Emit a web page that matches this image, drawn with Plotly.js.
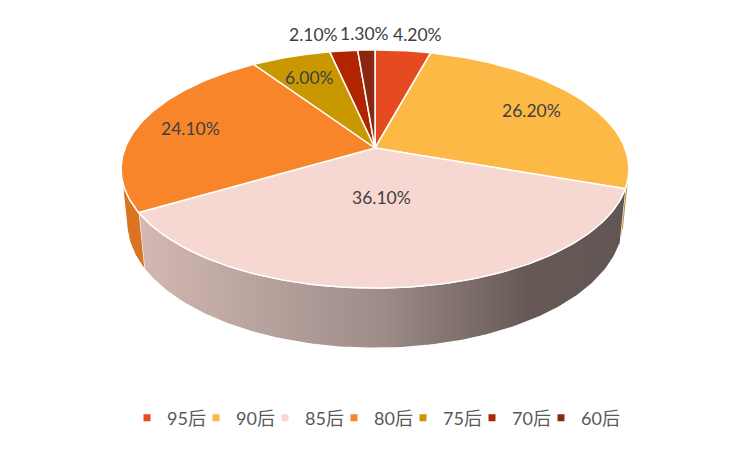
<!DOCTYPE html>
<html>
<head>
<meta charset="utf-8">
<script src="https://cdn.plot.ly/plotly-3.0.1.min.js"></script>
<style>body{margin:0;background:#fff}</style>
</head>
<body>
<div id="chart" style="width:750px;height:450px;"></div>
<script>
var groups = ['95后', '90后', '85后', '80后', '75后', '70后', '60后'];
var shares = [4.2, 26.2, 36.1, 24.1, 6.0, 2.1, 1.3];

var topColors = ['#E64A21', '#FCB946', '#F6D7D2', '#F8852A', '#C99800', '#B02500', '#8A2710'];
var sideColors = ['#B83B1A', '#C9943A', '#9D8C88', '#DA7420', '#A07900', '#8C1E00', '#6E1F0D'];
// label placement: radius along the slice middle, and a sideways nudge for the crowded ones
var labelRadius = [1.2, 0.75, 0.4, 0.78, 0.75, 1.2, 1.2];
var labelShift = [10, 0, -4, 0, 0, -25, 0];

// perspective camera, fitted by eye to the original
var cx = 375, cy = 148, focal = 1257, dist = 5.03, thick = 0.2436;
var tilt = 27.5 * Math.PI / 180;
var sinT = Math.sin(tilt), cosT = Math.cos(tilt);

function project(theta, r, h) {
    var X = r * Math.sin(theta);
    var Z = -r * Math.cos(theta);
    var depth = dist - (h * sinT + Z * cosT);
    var up = h * cosT - Z * sinT;
    return [cx + focal * X / depth, cy - focal * up / depth];
}

function arc(a0, a1, r, h) {
    var pts = [];
    var n = Math.max(2, Math.ceil(Math.abs(a1 - a0) / (Math.PI / 180)));
    for (let i = 0; i <= n; i++) {
        pts.push(project(a0 + (a1 - a0) * i / n, r, h));
    }
    return pts;
}

var total = shares.reduce(function (a, b) { return a + b; }, 0);
var starts = [], ends = [];
var acc = 0;
for (let i = 0; i < shares.length; i++) {
    starts.push(acc / total * 2 * Math.PI);
    acc += shares[i];
    ends.push(acc / total * 2 * Math.PI);
}

// the outer wall faces the camera only where cos(theta) < -1/(dist*cos(tilt))
var seeFrom = Math.acos(-1 / (dist * cosT));
var seeTo = 2 * Math.PI - seeFrom;

var data = [];

// side walls first
for (let i = 0; i < shares.length; i++) {
    var a0 = Math.max(starts[i], seeFrom);
    var a1 = Math.min(ends[i], seeTo);
    if (a1 <= a0) continue;
    var pts = arc(a0, a1, 1, 0).concat(arc(a1, a0, 1, -thick));
    var side = {
        x: pts.map(function (p) { return p[0]; }),
        y: pts.map(function (p) { return p[1]; }),
        type: 'scatter',
        mode: 'lines',
        fill: 'toself',
        fillcolor: sideColors[i],
        line: {color: '#ffffff', width: 1.2},
        hoverinfo: 'skip',
        showlegend: false
    };
    if (groups[i] == '85后') {
        side.fillgradient = {
            type: 'horizontal',
            start: 140,
            stop: 625,
            colorscale: [[0, '#D3B8B3'], [0.5, '#9D8C88'], [0.8, '#665956'], [1, '#625654']]
        };
    }
    data.push(side);
}

// top faces
for (let i = 0; i < shares.length; i++) {
    var pts = [project(0, 0, 0)].concat(arc(starts[i], ends[i], 1, 0));
    pts.push(project(0, 0, 0));
    data.push({
        x: pts.map(function (p) { return p[0]; }),
        y: pts.map(function (p) { return p[1]; }),
        type: 'scatter',
        mode: 'lines',
        fill: 'toself',
        fillcolor: topColors[i],
        line: {color: '#ffffff', width: 1.5},
        name: groups[i],
        hoverinfo: 'name',
        showlegend: false
    });
}

// legend entries
for (let i = 0; i < shares.length; i++) {
    data.push({
        x: [null],
        y: [null],
        type: 'scatter',
        mode: 'markers',
        marker: {symbol: 'square', size: 7, color: topColors[i]},
        name: groups[i],
        showlegend: true
    });
}
// empty slot so the last legend text is not clipped
data.push({
    x: [null],
    y: [null],
    type: 'scatter',
    mode: 'markers',
    marker: {symbol: 'square', size: 7, color: 'rgba(0,0,0,0)'},
    name: '\u00a0',
    showlegend: true
});

var annotations = [];
for (let i = 0; i < shares.length; i++) {
    var mid = (starts[i] + ends[i]) / 2;
    var p = project(mid, labelRadius[i], 0);
    annotations.push({
        x: p[0],
        y: p[1],
        xref: 'x',
        yref: 'y',
        text: shares[i].toFixed(2) + '%',
        showarrow: false,
        xshift: labelShift[i],
        font: {family: 'Lato, "Noto Sans CJK SC", sans-serif', size: 17.5, color: '#404040'}
    });
}

var layout = {
    width: 750,
    height: 450,
    margin: {l: 0, r: 0, t: 0, b: 0},
    paper_bgcolor: '#ffffff',
    plot_bgcolor: '#ffffff',
    xaxis: {range: [0, 750], visible: false, fixedrange: true},
    yaxis: {range: [450, 0], visible: false, fixedrange: true},
    showlegend: true,
    legend: {
        orientation: 'h',
        x: 127 / 750,
        xanchor: 'left',
        y: 1 - 418 / 450,
        yanchor: 'middle',
        entrywidthmode: 'pixels',
        entrywidth: 24,
        font: {family: 'Lato, "Noto Sans CJK SC", sans-serif', size: 18, color: '#595959'}
    },
    annotations: annotations
};

Plotly.newPlot('chart', data, layout, {displayModeBar: false, staticPlot: true});
</script>
</body>
</html>
